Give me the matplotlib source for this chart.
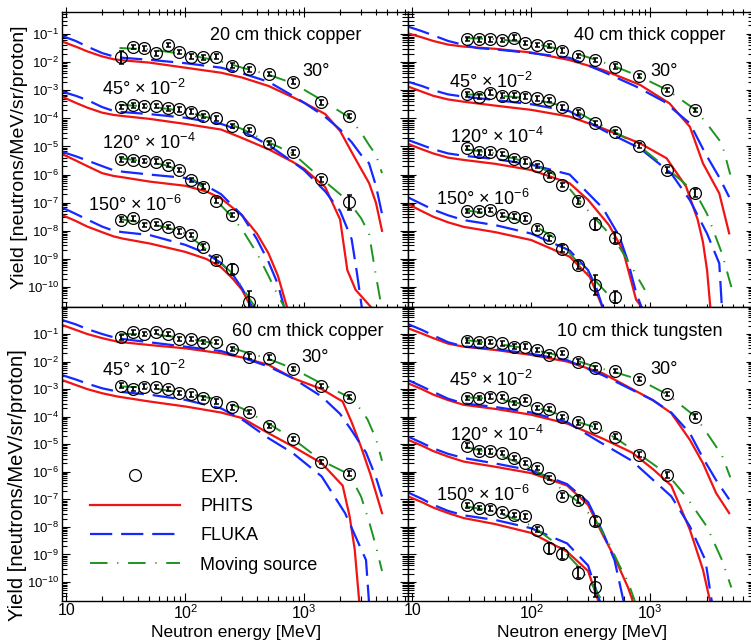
"""
Neutron yield spectra behind thick targets: EXP vs PHITS / FLUKA / moving source.
Yields are stored as log10 values (already multiplied by the per-angle factor).
"""
import numpy as np
import matplotlib
matplotlib.use("Agg")
import matplotlib.pyplot as plt
from matplotlib.lines import Line2D
from matplotlib.ticker import FixedLocator, NullFormatter, FuncFormatter

plt.rcParams["font.family"] = ["Liberation Sans", "DejaVu Sans"]
plt.rcParams["mathtext.default"] = "regular"

# measured energy bins [MeV], same in every panel
E_EXP = [29, 36, 45, 57, 71, 89, 112, 140, 180, 245, 345, 505, 805, 1370, 2370]

# ---- 20 cm thick copper ----
CU20_EXP = {
    30: [-1.83, -1.47, -1.51, -1.69, -1.39, -1.65, -1.81, -1.83, -1.81, -2.13, -2.26, -2.42, -2.70, -3.43, -3.91],
    45: [-3.59, -3.54, -3.56, -3.56, -3.65, -3.68, -3.76, -3.91, -4.00, -4.27, -4.42, -4.87, -5.21, -6.17, -6.99],
    120: [-5.46, -5.48, -5.52, -5.54, -5.66, -5.84, -6.20, -6.43, -6.93, -7.44],
    150: [-7.60, -7.56, -7.80, -7.76, -7.86, -8.03, -8.15, -8.57, -9.04, -9.37, -10.53],
}
CU20_ERR = {
    30: [0.24, 0.08, 0.08, 0.08, 0.08, 0.08, 0.08, 0.08, 0.08, 0.08, 0.08, 0.08, 0.08, 0.08, 0.08],
    45: [0.08, 0.08, 0.08, 0.08, 0.08, 0.08, 0.08, 0.08, 0.08, 0.08, 0.08, 0.08, 0.08, 0.08, 0.26],
    120: [0.08, 0.08, 0.08, 0.08, 0.08, 0.08, 0.08, 0.08, 0.08, 0.08],
    150: [0.08, 0.08, 0.08, 0.08, 0.08, 0.08, 0.08, 0.10, 0.12, 0.18, 0.40],
}
CU20_PHITS = {
    30: [(9.2, -1.27), (12, -1.45), (15, -1.62), (20, -1.80), (25, -1.90), (30, -1.94), (50, -2.02),
         (100, -2.20), (200, -2.38), (300, -2.55), (500, -2.85), (800, -3.25), (1000, -3.45),
         (1500, -3.85), (2000, -4.45), (2500, -5.20), (3000, -5.80), (3500, -6.30), (4000, -7.00), (4500, -8.00)],
    45: [(9.2, -3.23), (12, -3.45), (15, -3.62), (20, -3.80), (25, -3.88), (30, -3.92), (50, -4.02),
         (100, -4.20), (200, -4.40), (300, -4.70), (500, -5.10), (800, -5.55), (1000, -5.80),
         (1500, -6.45), (2000, -7.60), (2300, -9.40), (2700, -10.10), (3700, -10.75)],
    120: [(9.2, -5.27), (12, -5.50), (15, -5.70), (20, -5.95), (25, -6.05), (30, -6.10), (50, -6.25),
          (100, -6.40), (150, -6.60), (200, -6.85), (300, -7.45), (400, -8.10), (500, -8.80),
          (600, -9.60), (720, -10.75)],
    150: [(9.2, -7.44), (12, -7.65), (15, -7.85), (20, -8.05), (25, -8.20), (30, -8.28), (50, -8.45),
          (100, -8.75), (150, -9.00), (200, -9.30), (250, -9.70), (300, -10.10), (360, -10.75)],
}
CU20_FLUKA = {
    30: [(9.2, -1.07), (12, -1.25), (15, -1.45), (20, -1.68), (25, -1.80), (30, -1.85), (50, -1.92),
         (100, -2.04), (200, -2.20), (300, -2.40), (500, -2.70), (800, -3.20), (1000, -3.45),
         (1500, -3.95), (2000, -4.40), (2500, -4.85), (3000, -5.30), (3500, -5.60), (4000, -6.40), (4500, -7.40)],
    45: [(9.2, -3.05), (12, -3.20), (15, -3.35), (20, -3.60), (25, -3.74), (30, -3.78), (50, -3.85),
         (100, -3.98), (200, -4.20), (300, -4.45), (500, -4.95), (800, -5.55), (1000, -5.85),
         (1500, -6.60), (2000, -7.30), (2500, -8.30), (2770, -9.50), (3050, -10.75)],
    120: [(9.2, -5.19), (12, -5.35), (15, -5.50), (20, -5.70), (25, -5.85), (30, -5.90), (50, -6.00),
          (100, -6.12), (150, -6.40), (200, -6.70), (300, -7.45), (400, -8.30), (500, -9.10),
          (600, -9.90), (680, -10.75)],
    150: [(9.2, -7.17), (12, -7.40), (15, -7.60), (20, -7.85), (25, -8.00), (30, -8.05), (50, -8.15),
          (100, -8.50), (150, -8.80), (200, -9.15), (250, -9.55), (300, -10.05), (370, -10.75)],
}
CU20_MOVING = {
    30: [(28, -1.50), (50, -1.55), (100, -1.72), (200, -1.98), (300, -2.20), (500, -2.45), (800, -2.75),
         (1400, -3.35), (2350, -3.95), (3000, -4.50), (3500, -4.95), (4000, -5.30), (4500, -5.95)],
    45: [(28, -3.52), (50, -3.58), (100, -3.75), (200, -4.10), (300, -4.38), (500, -4.85), (800, -5.25),
         (1400, -6.15), (2350, -6.95), (3000, -7.55), (3500, -8.10), (4000, -9.60), (4500, -10.80)],
    120: [(28, -5.42), (50, -5.55), (70, -5.68), (100, -5.95), (140, -6.45), (180, -6.90), (240, -7.45),
          (300, -7.95), (400, -8.80), (500, -9.60), (600, -10.30), (700, -10.80)],
    150: [(28, -7.58), (50, -7.75), (70, -7.88), (100, -8.10), (140, -8.55), (180, -9.00), (240, -9.45),
          (300, -10.00), (350, -10.45), (400, -10.80)],
}

# ---- 40 cm thick copper ----
CU40_EXP = {
    30: [-1.18, -1.19, -1.19, -1.21, -1.13, -1.33, -1.39, -1.43, -1.59, -1.78, -1.93, -2.16, -2.49, -2.99, -3.70],
    45: [-3.15, -3.23, -3.09, -3.19, -3.19, -3.23, -3.29, -3.35, -3.61, -3.80, -4.16, -4.48, -4.97, -5.84, -6.67],
    120: [-5.05, -5.21, -5.21, -5.27, -5.46, -5.54, -5.69, -6.04, -6.37, -6.94, -7.76, -8.24],
    150: [-7.30, -7.30, -7.26, -7.44, -7.50, -7.56, -7.92, -8.27, -8.63, -9.22, -9.93, -10.35],
}
CU40_ERR = {
    30: [0.08, 0.08, 0.08, 0.08, 0.08, 0.08, 0.08, 0.08, 0.08, 0.08, 0.08, 0.08, 0.08, 0.08, 0.08],
    45: [0.08, 0.08, 0.08, 0.08, 0.08, 0.08, 0.08, 0.08, 0.08, 0.08, 0.08, 0.08, 0.08, 0.10, 0.14],
    120: [0.08, 0.08, 0.08, 0.08, 0.08, 0.08, 0.08, 0.08, 0.08, 0.10, 0.20, 0.20],
    150: [0.08, 0.08, 0.08, 0.08, 0.08, 0.08, 0.08, 0.08, 0.12, 0.15, 0.35, 0.20],
}
CU40_PHITS = {
    30: [(9.2, -0.98), (12, -1.12), (15, -1.25), (20, -1.38), (27, -1.45), (50, -1.53), (100, -1.66),
         (210, -1.93), (400, -2.28), (820, -2.81), (1450, -3.47), (2150, -4.30), (2770, -5.60),
         (3800, -6.67), (4600, -8.09)],
    45: [(9.2, -2.87), (12, -3.05), (15, -3.20), (20, -3.33), (27, -3.41), (50, -3.55), (100, -3.70),
         (210, -3.94), (400, -4.36), (820, -4.89), (1370, -5.42), (2000, -6.43), (2500, -7.60),
         (2770, -8.40), (3000, -9.40), (3200, -10.75)],
    120: [(9.2, -4.91), (12, -5.10), (15, -5.25), (20, -5.40), (27, -5.48), (50, -5.62), (100, -5.84),
          (210, -6.31), (300, -6.90), (450, -7.80), (590, -8.70), (760, -10.45), (860, -10.75)],
    150: [(9.2, -7.05), (12, -7.30), (15, -7.50), (20, -7.70), (27, -7.86), (50, -8.05), (100, -8.33),
          (210, -8.92), (310, -9.64), (400, -10.75)],
}
CU40_FLUKA = {
    30: [(9.2, -0.74), (12, -0.90), (15, -1.05), (20, -1.25), (27, -1.39), (35, -1.50), (50, -1.55),
         (100, -1.68), (210, -1.85), (400, -2.34), (760, -2.87), (1300, -3.40), (2150, -4.18),
         (2900, -5.25), (3800, -6.10), (4600, -6.80)],
    45: [(9.2, -2.70), (12, -2.85), (15, -3.00), (20, -3.15), (27, -3.23), (50, -3.35), (100, -3.50),
         (210, -3.75), (400, -4.42), (820, -5.07), (1500, -5.96), (2150, -6.91), (3000, -8.10),
         (3800, -9.16), (4000, -10.75)],
    120: [(9.2, -4.77), (12, -4.95), (15, -5.10), (20, -5.25), (27, -5.33), (50, -5.45), (100, -5.65),
          (210, -6.00), (400, -7.20), (550, -8.20), (650, -9.10), (760, -10.20), (850, -10.75)],
    150: [(9.2, -6.81), (12, -7.05), (15, -7.25), (20, -7.45), (27, -7.62), (50, -7.80), (100, -8.10),
          (210, -8.70), (300, -9.40), (350, -10.00), (400, -10.75)],
}
CU40_MOVING = {
    30: [(28, -1.15), (50, -1.18), (100, -1.32), (200, -1.60), (350, -1.92), (500, -2.15), (800, -2.50),
         (1400, -3.00), (2400, -3.70), (3000, -4.20), (4000, -4.90), (4700, -6.00)],
    45: [(28, -3.15), (50, -3.18), (100, -3.30), (180, -3.55), (250, -3.80), (350, -4.15), (500, -4.48),
         (800, -4.97), (1400, -5.80), (2400, -6.65), (3000, -7.40), (4000, -8.80), (4800, -10.00)],
    120: [(28, -5.10), (50, -5.25), (100, -5.60), (150, -5.95), (200, -6.40), (250, -6.90), (350, -7.60),
          (500, -8.30), (700, -9.30), (900, -10.10)],
    150: [(28, -7.28), (50, -7.40), (100, -7.75), (150, -8.20), (200, -8.70), (250, -9.15), (350, -9.80),
          (450, -10.30), (550, -10.75)],
}

# ---- 60 cm thick copper ----
CU60_EXP = {
    30: [-1.12, -0.94, -1.01, -0.92, -1.01, -1.18, -1.18, -1.28, -1.28, -1.54, -1.82, -1.86, -2.27, -2.88, -3.29],
    45: [-2.87, -3.00, -2.91, -2.93, -3.00, -3.15, -3.19, -3.33, -3.45, -3.66, -3.84, -4.33, -4.82, -5.65, -6.07],
}
CU60_ERR = {
    30: [0.09, 0.08, 0.08, 0.08, 0.08, 0.08, 0.08, 0.08, 0.08, 0.08, 0.08, 0.08, 0.08, 0.08, 0.08],
    45: [0.08, 0.08, 0.08, 0.08, 0.08, 0.08, 0.08, 0.08, 0.08, 0.08, 0.08, 0.08, 0.08, 0.08, 0.08],
}
CU60_PHITS = {
    30: [(9.2, -0.67), (12, -0.85), (15, -1.00), (20, -1.15), (27, -1.28), (50, -1.40), (100, -1.52),
         (200, -1.70), (300, -1.85), (500, -2.12), (800, -2.60), (1400, -3.00), (2100, -3.45),
         (2500, -4.20), (3000, -5.10), (3600, -6.10), (4500, -7.50)],
    45: [(9.2, -2.67), (12, -2.85), (15, -3.00), (20, -3.15), (27, -3.27), (50, -3.45), (100, -3.63),
         (200, -3.85), (300, -4.05), (500, -4.60), (800, -5.08), (1400, -5.69), (2100, -6.50),
         (2400, -7.60), (2650, -8.80), (2900, -10.75)],
}
CU60_FLUKA = {
    30: [(9.2, -0.49), (12, -0.65), (15, -0.82), (20, -1.00), (27, -1.16), (50, -1.30), (100, -1.46),
         (200, -1.62), (300, -1.85), (500, -2.18), (800, -2.60), (1400, -3.27), (2000, -3.90),
         (2500, -4.50), (3300, -5.30), (4000, -6.20), (4500, -6.90)],
    45: [(9.2, -2.49), (12, -2.65), (15, -2.80), (20, -2.97), (27, -3.09), (50, -3.20), (100, -3.39),
         (200, -3.70), (300, -4.10), (500, -4.78), (800, -5.32), (1400, -6.17), (2200, -7.50),
         (3300, -9.20), (3500, -10.75)],
}
CU60_MOVING = {
    30: [(28, -1.00), (50, -1.00), (100, -1.15), (200, -1.38), (300, -1.62), (500, -1.90), (800, -2.25),
         (1400, -2.80), (2400, -3.30), (3000, -3.75), (3400, -4.10), (4000, -4.80), (4500, -5.60)],
    45: [(28, -2.90), (50, -2.95), (100, -3.15), (200, -3.40), (300, -3.70), (500, -4.25), (800, -4.80),
         (1400, -5.60), (2400, -6.10), (3000, -6.90), (3500, -7.80), (4000, -8.70), (4500, -9.60)],
}

# ---- 10 cm thick tungsten ----
W10_EXP = {
    30: [-1.24, -1.28, -1.30, -1.34, -1.46, -1.46, -1.58, -1.76, -1.70, -2.00, -2.24, -2.34, -2.64, -3.17, -4.00],
    45: [-3.33, -3.33, -3.27, -3.29, -3.51, -3.39, -3.69, -3.73, -4.02, -4.21, -4.36, -4.72, -5.38, -6.11],
    120: [-5.05, -5.26, -5.26, -5.32, -5.50, -5.69, -5.87, -6.23, -6.87, -7.01, -7.80],
    150: [-7.22, -7.32, -7.34, -7.46, -7.56, -7.62, -8.10, -8.77, -8.97, -9.67, -10.18],
}
W10_ERR = {
    30: [0.08, 0.08, 0.08, 0.08, 0.08, 0.08, 0.08, 0.08, 0.08, 0.08, 0.08, 0.08, 0.08, 0.08, 0.08],
    45: [0.08, 0.08, 0.08, 0.08, 0.08, 0.08, 0.08, 0.08, 0.08, 0.08, 0.08, 0.08, 0.08, 0.10],
    120: [0.08, 0.08, 0.08, 0.08, 0.08, 0.08, 0.08, 0.08, 0.10, 0.12, 0.15],
    150: [0.08, 0.08, 0.08, 0.08, 0.08, 0.08, 0.10, 0.20, 0.20, 0.20, 0.35],
}
W10_PHITS = {
    30: [(9.2, -0.79), (12, -0.98), (15, -1.15), (20, -1.35), (27, -1.46), (50, -1.58), (100, -1.76),
         (200, -2.00), (400, -2.43), (1050, -3.40), (1500, -3.87), (2150, -4.84), (2770, -5.69),
         (3570, -6.77), (4600, -7.50)],
    45: [(9.2, -2.79), (12, -3.00), (15, -3.20), (20, -3.40), (27, -3.57), (50, -3.72), (100, -3.93),
         (200, -4.25), (400, -4.80), (700, -5.30), (1050, -5.90), (1500, -6.50), (2150, -8.10),
         (2770, -9.55), (3200, -10.75)],
    120: [(9.2, -4.84), (12, -5.05), (15, -5.25), (20, -5.45), (27, -5.63), (50, -5.82), (100, -6.05),
          (200, -6.50), (300, -7.20), (400, -8.30), (500, -9.10), (650, -10.20), (720, -10.75)],
    150: [(9.2, -6.89), (12, -7.10), (15, -7.30), (20, -7.50), (27, -7.68), (50, -7.90), (100, -8.22),
          (200, -8.90), (300, -9.60), (370, -10.75)],
}
W10_FLUKA = {
    30: [(9.2, -0.64), (12, -0.85), (15, -1.05), (20, -1.30), (27, -1.45), (50, -1.55), (100, -1.72),
         (200, -1.95), (400, -2.50), (1050, -3.40), (1500, -3.85), (2150, -4.60), (2770, -5.50),
         (3570, -6.30), (4600, -7.00)],
    45: [(9.2, -2.67), (12, -2.90), (15, -3.10), (20, -3.35), (27, -3.52), (50, -3.65), (100, -3.85),
         (200, -4.20), (350, -4.84), (700, -5.60), (1500, -6.89), (2150, -7.98), (2900, -9.20),
         (3300, -10.75)],
    120: [(9.2, -4.72), (12, -4.95), (15, -5.15), (20, -5.35), (27, -5.50), (50, -5.70), (100, -5.95),
          (200, -6.45), (300, -7.10), (400, -8.20), (500, -9.20), (600, -10.75)],
    150: [(9.2, -6.75), (12, -6.98), (15, -7.20), (20, -7.42), (27, -7.58), (50, -7.75), (100, -8.05),
          (200, -8.60), (300, -9.40), (380, -10.75)],
}
W10_MOVING = {
    30: [(28, -1.22), (50, -1.35), (100, -1.55), (200, -1.85), (350, -2.20), (500, -2.38), (800, -2.65),
         (1400, -3.20), (2400, -4.00), (3000, -4.60), (4000, -5.40), (4700, -6.20)],
    45: [(28, -3.30), (50, -3.35), (100, -3.60), (180, -3.95), (250, -4.20), (350, -4.40), (500, -4.75),
         (800, -5.35), (1400, -6.10), (2000, -6.90), (3000, -8.00), (4000, -9.20), (4800, -10.20)],
    120: [(28, -5.10), (50, -5.35), (100, -5.85), (150, -6.35), (200, -6.80), (250, -7.10), (350, -7.80),
          (450, -8.60), (550, -9.40), (650, -10.00), (750, -10.75)],
    150: [(28, -7.25), (50, -7.45), (100, -7.95), (150, -8.50), (200, -9.00), (250, -9.45), (300, -9.90),
          (350, -10.30), (400, -10.75)],
}

TITLES = ["20 cm thick copper", "40 cm thick copper", "60 cm thick copper", "10 cm thick tungsten"]
ANGLE_LABELS = {30: "30°", 45: "45° × 10$^{-2}$", 120: "120° × 10$^{-4}$", 150: "150° × 10$^{-6}$"}

RED = "#f01414"
BLUE = "#1428ff"
GREEN = "#1f9420"


def curve(ax, pts, **kw):
    e, ly = zip(*pts)
    ax.plot(e, 10.0 ** np.array(ly), **kw)


def draw_panel(ax, exp, err, phits, fluka, moving):
    for ang in phits:
        curve(ax, phits[ang], color=RED, lw=1.6, zorder=2)
        curve(ax, fluka[ang], color=BLUE, lw=1.6, dashes=(10, 4), zorder=2)
        curve(ax, moving[ang], color=GREEN, lw=1.4, dashes=(9, 5, 0.6, 5), zorder=3)
    for ang in exp:
        y = 10.0 ** np.array(exp[ang])
        d = np.array(err[ang])
        e = E_EXP[:len(y)]
        ax.errorbar(e, y, yerr=[y - y * 10 ** -d, y * 10 ** d - y], fmt="none", ecolor="k",
                    elinewidth=1.3, capsize=1.8, capthick=1.1, zorder=4)
        ax.plot(e, y, "o", ms=8.5, mfc="none", mec="k", mew=0.9, zorder=5)


def setup(ax, left_col, bottom_row, ylim):
    ax.set_xscale("log")
    ax.set_yscale("log")
    ax.set_xlim(9.2, 7440)
    ax.set_ylim(*ylim)
    ax.xaxis.set_major_locator(FixedLocator([10, 100, 1000]))
    ax.xaxis.set_minor_locator(FixedLocator([m * 10.0 ** k for k in range(0, 4) for m in range(2, 10)]))
    ax.yaxis.set_major_locator(FixedLocator([10.0 ** k for k in range(-10, 0)]))
    ax.yaxis.set_minor_locator(FixedLocator([m * 10.0 ** k for k in range(-12, 1) for m in range(2, 10)]))
    ax.xaxis.set_minor_formatter(NullFormatter())
    ax.yaxis.set_minor_formatter(NullFormatter())
    ax.yaxis.set_major_formatter(FuncFormatter(lambda v, p: "$10^{%d}$" % round(np.log10(v))))
    ax.xaxis.set_major_formatter(FuncFormatter(
        lambda v, p: "10" if round(np.log10(v)) == 1 else "$10^{%d}$" % round(np.log10(v))))
    for s in ax.spines.values():
        s.set_linewidth(1.0)

    if left_col:
        ax.tick_params(axis="y", which="both", direction="in", left=True, right=False,
                       labelleft=True, labelsize=9.5, pad=2, width=0.8)
        ax.tick_params(axis="y", which="major", length=6)
        ax.tick_params(axis="y", which="minor", length=3.5)
    else:
        ax.tick_params(axis="y", which="both", direction="inout", left=True, right=True,
                       labelleft=False, width=0.8)
        ax.tick_params(axis="y", which="major", length=12)
        ax.tick_params(axis="y", which="minor", length=8)

    if bottom_row:
        ax.tick_params(axis="x", which="both", direction="in", bottom=True, top=False,
                       labelbottom=True, labelsize=11.5, pad=1.5, width=0.8)
        ax.tick_params(axis="x", which="major", length=6)
        ax.tick_params(axis="x", which="minor", length=3.5)
    else:
        ax.tick_params(axis="x", which="both", direction="inout", bottom=True, top=True,
                       labelbottom=False, width=0.8)
        ax.tick_params(axis="x", which="major", length=7)
        ax.tick_params(axis="x", which="minor", length=5)


def main():
    fig = plt.figure(figsize=(7.51, 6.42), dpi=100)
    W, H = 751.0, 642.0
    x0, xm, xw = 62, 408, 346
    top_lim = (10 ** -10.71, 10 ** -0.22)
    bot_lim = (10 ** -10.69, 10 ** -0.02)

    ax_tl = fig.add_axes([x0 / W, 1 - 307 / H, xw / W, 295 / H])
    ax_tr = fig.add_axes([xm / W, 1 - 307 / H, xw / W, 295 / H])
    ax_bl = fig.add_axes([x0 / W, 1 - 601 / H, xw / W, 294 / H])
    ax_br = fig.add_axes([xm / W, 1 - 601 / H, xw / W, 294 / H])

    setup(ax_tl, True, False, top_lim)
    setup(ax_tr, False, False, top_lim)
    setup(ax_bl, True, True, bot_lim)
    setup(ax_br, False, True, bot_lim)

    draw_panel(ax_tl, CU20_EXP, CU20_ERR, CU20_PHITS, CU20_FLUKA, CU20_MOVING)
    draw_panel(ax_tr, CU40_EXP, CU40_ERR, CU40_PHITS, CU40_FLUKA, CU40_MOVING)
    draw_panel(ax_bl, CU60_EXP, CU60_ERR, CU60_PHITS, CU60_FLUKA, CU60_MOVING)
    draw_panel(ax_br, W10_EXP, W10_ERR, W10_PHITS, W10_FLUKA, W10_MOVING)

    fs = 13
    # panel titles
    ax_tl.text(0.647, 0.922, TITLES[0], transform=ax_tl.transAxes, ha="center", va="center", fontsize=fs)
    ax_tr.text(0.699, 0.922, TITLES[1], transform=ax_tr.transAxes, ha="center", va="center", fontsize=fs)
    ax_bl.text(0.491, 0.915, TITLES[2], transform=ax_bl.transAxes, ha="left", va="center", fontsize=fs)
    ax_br.text(0.671, 0.918, TITLES[3], transform=ax_br.transAxes, ha="center", va="center", fontsize=fs)

    # angle labels (x, y in axes fraction; 30 deg is centred, the others left aligned)
    tl_pos = {30: (0.734, 0.80), 45: (0.116, 0.739), 120: (0.116, 0.556), 150: (0.075, 0.346)}
    tr_pos = {30: (0.740, 0.797), 45: (0.118, 0.763), 120: (0.121, 0.576), 150: (0.081, 0.366)}
    bl_pos = {30: (0.731, 0.827), 45: (0.116, 0.786)}
    br_pos = {30: (0.740, 0.786), 45: (0.118, 0.752), 120: (0.121, 0.565), 150: (0.081, 0.361)}
    for ax, pos in [(ax_tl, tl_pos), (ax_tr, tr_pos), (ax_bl, bl_pos), (ax_br, br_pos)]:
        for ang, (x, y) in pos.items():
            ax.text(x, y, ANGLE_LABELS[ang], transform=ax.transAxes, fontsize=fs,
                    ha="center" if ang == 30 else "left", va="center")

    # legend
    handles = [
        Line2D([], [], ls="none", marker="o", ms=8.5, mfc="none", mec="k", mew=0.9),
        Line2D([], [], color=RED, lw=1.6),
        Line2D([], [], color=BLUE, lw=1.6, dashes=(10, 4)),
        Line2D([], [], color=GREEN, lw=1.4, dashes=(9, 5, 0.6, 5)),
    ]
    ax_bl.legend(handles, ["EXP.", "PHITS", "FLUKA", "Moving source"], loc="upper left",
                 bbox_to_anchor=(0.081, 0.45), frameon=False, fontsize=fs, handlelength=5.0,
                 handletextpad=1.1, labelspacing=0.68, borderpad=0, borderaxespad=0)

    # axis labels
    fig.text(20 / W, 1 - 157 / H, "Yield [neutrons/MeV/sr/proton]", rotation=90,
             ha="center", va="center", fontsize=14)
    fig.text(18 / W, 1 - 485 / H, "Yield [neutrons/MeV/sr/proton]", rotation=90,
             ha="center", va="center", fontsize=14.5)
    fig.text(236 / W, 1 - 632.5 / H, "Neutron energy [MeV]", ha="center", va="center", fontsize=12.5)
    fig.text(582 / W, 1 - 632.5 / H, "Neutron energy [MeV]", ha="center", va="center", fontsize=12.5)

    fig.savefig("out.png", dpi=100)


if __name__ == "__main__":
    main()
